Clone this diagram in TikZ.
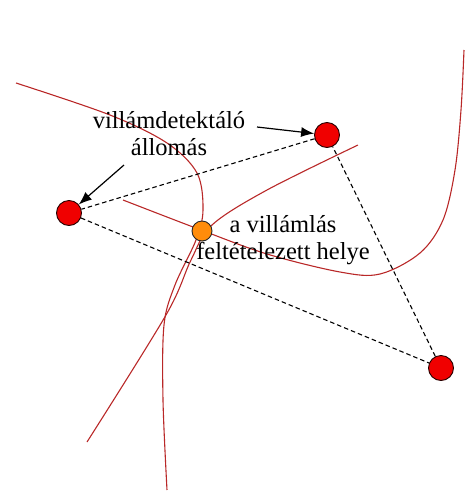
\documentclass[tikz,border=0pt]{standalone}
\usepackage{fontspec}
\setmainfont{Liberation Serif}
\usetikzlibrary{arrows.meta}
\definecolor{hypred}{RGB}{185,40,40}
\definecolor{stred}{RGB}{240,0,0}
\definecolor{flashorange}{RGB}{255,140,10}
\begin{document}
\begin{tikzpicture}[
  x=1pt, y=-1pt,
  station/.style={circle, draw=black!85!red, fill=stred, line width=0.9pt,
                  minimum size=25pt, inner sep=0pt},
  flash/.style={circle, draw=black!85, fill=flashorange, line width=0.9pt,
                minimum size=20pt, inner sep=0pt},
  hyper/.style={hypred, line width=1.1pt},
  dashlink/.style={dash pattern=on 4.5pt off 3pt, line width=1.1pt},
  pointer/.style={-{Latex[length=13pt,width=10pt]}, line width=1.2pt},
  txt/.style={font=\fontsize{24.5}{27}\selectfont, align=center, inner sep=0pt}
]
\useasboundingbox (0,0) rectangle (470,491);
\draw[hyper] plot[smooth, tension=0.55] coordinates {
  (16,83) (110,115) (167,143) (197,173) (203,210) (196,240) (175,285)
  (164,325) (163,400) (167,490)};
\draw[hyper] plot[smooth, tension=0.55] coordinates {
  (358,145) (267,190) (212,225) (191,260) (166,315) (87,442)};
\draw[hyper] plot[smooth, tension=0.55] coordinates {
  (123,200) (201,230) (267,254) (340,272) (380,274) (420,253) (443,220)
  (455,170) (461,110) (464,50)};
\node[station] (stA) at (327,135) {};
\node[station] (stB) at (69,213) {};
\node[station] (stC) at (441,368) {};
\node[flash] (strike) at (202,231) {};
\draw[dashlink] (stA) -- (stB) -- (stC) -- (stA);
\node[txt] (station label) at (169,134) {villámdetektáló\\állomás};
\node[txt] (strike label) at (283,240) {a villámlás\\feltételezett helye};
\coordinate (ptrA) at (257,127);
\coordinate (ptrB) at (124,165);
\draw[pointer] (ptrA) -- (stA);
\draw[pointer] (ptrB) -- (stB);
\end{tikzpicture}
\end{document}
